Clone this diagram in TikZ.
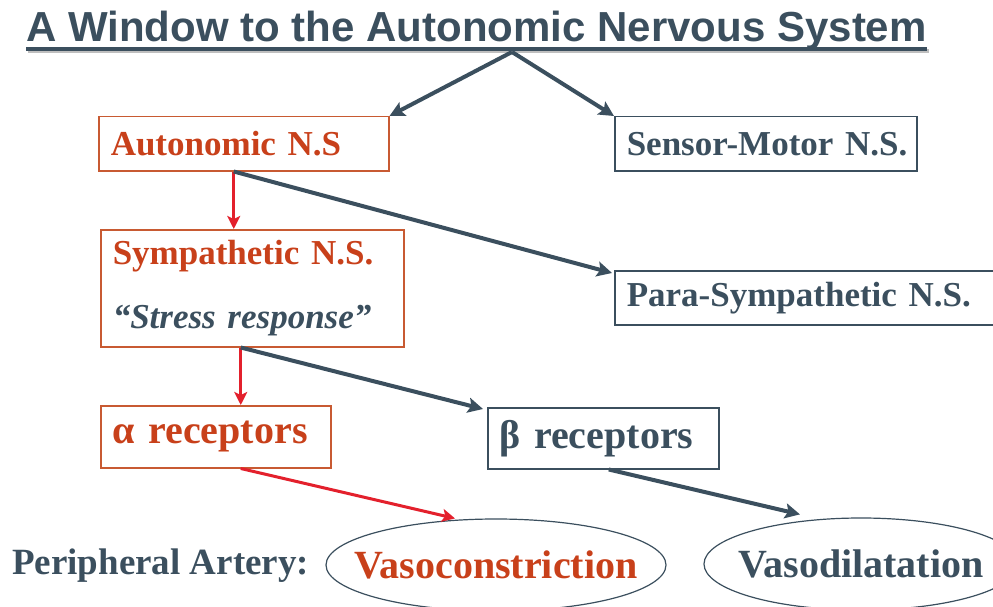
\documentclass[tikz,border=0pt]{standalone}
\usepackage{fontspec}
\setmainfont{Liberation Serif}
\newfontfamily\titlefont{Liberation Sans}
\usetikzlibrary{arrows.meta,shapes.geometric}
\definecolor{slate}{HTML}{3B4F5E}
\definecolor{rust}{HTML}{C8401A}
\definecolor{rustbox}{HTML}{C85A32}
\definecolor{arrowred}{HTML}{E3202C}
\tikzset{
  nsbox/.style={draw, line width=1.5pt, anchor=north west, align=left,
    inner xsep=12pt, inner ysep=0pt, font=\fontsize{35}{42}\selectfont\bfseries},
  redbox/.style={nsbox, draw=rustbox, text=rust},
  slatebox/.style={nsbox, draw=slate, text=slate},
  effect/.style={ellipse, draw=slate, line width=1.2pt, inner sep=0pt,
    font=\fontsize{40}{48}\selectfont\bfseries},
  link/.style={slate, line width=4pt, -{Stealth[length=15pt,width=15pt,inset=3pt]}},
  redlink/.style={arrowred, line width=3pt, -{Stealth[length=13pt,width=13pt,inset=3pt]}}
}
\begin{document}
\begin{tikzpicture}[x=1pt,y=-1pt]
	\useasboundingbox (0,0) rectangle (993,607);
	
	% title
	\node[anchor=base, inner sep=0pt, text=slate, font=\titlefont\fontsize{42}{50}\selectfont\bfseries]
		(title) at (476.5,42) {A Window to the Autonomic Nervous System};
	\draw[gray!50, line width=4pt] ([xshift=2pt,yshift=-9pt]title.base west) -- ([xshift=2pt,yshift=-9pt]title.base east);
	\draw[slate, line width=4pt] ([yshift=-7pt]title.base west) -- ([yshift=-7pt]title.base east);
	\coordinate (split) at (512,52);
	
	% boxes
	\node[redbox, text width=266pt, minimum height=54pt] (auto) at (98,116) {\mbox{Autonomic N.S}};
	\node[slatebox, text width=278pt, minimum height=54pt] (sensor) at (614,116) {\mbox{Sensor-Motor N.S.}};
	\node[redbox, text width=279pt, minimum height=117pt] (symp) at (100,229)
		{Sympathetic N.S.\\[22pt]{\color{slate}\itshape “Stress response”}};
	\node[slatebox, text width=366pt, minimum height=54pt] (para) at (614,270) {\mbox{Para-Sympathetic N.S.}};
	\node[redbox, text width=206pt, minimum height=62pt, font=\fontsize{40}{48}\selectfont\bfseries]
		(alpha) at (100,405) {α receptors};
	\node[slatebox, text width=207pt, minimum height=61pt, font=\fontsize{40}{48}\selectfont\bfseries]
		(beta) at (487,407) {β receptors};
	
	% artery
	\node[anchor=west, inner sep=0pt, text=slate, font=\fontsize{37}{44}\selectfont\bfseries]
		(artery) at (12,566) {Peripheral Artery:};
	\node[effect, minimum width=340pt, minimum height=92pt, text=rust] (vasoc) at (496,565) {\makebox[0pt]{Vasoconstriction}};
	\node[effect, minimum width=314pt, minimum height=92pt, text=slate] (vasod) at (861,564) {\makebox[0pt]{Vasodilatation}};
	
	% arrows
	\draw[link] (split) -- (auto.north east);
	\draw[link] (split) -- (sensor.north west);
	\draw[redlink] ([xshift=-10pt]auto.south) -- ([xshift=-18.5pt]symp.north);
	\draw[link] ([xshift=-10pt]auto.south) -- ([xshift=-2pt,yshift=-3pt]para.north west);
	\draw[redlink] ([xshift=-11.5pt]symp.south) -- ([xshift=25pt]alpha.north);
	\draw[link] ([xshift=-11.5pt]symp.south) -- ([xshift=-4pt,yshift=-2pt]beta.north west);
	\draw[redlink] ([xshift=25pt]alpha.south) -- ([xshift=-41pt]vasoc.north);
	\draw[link] ([xshift=5.5pt]beta.south) -- ([xshift=-61pt,yshift=3pt]vasod.north);
\end{tikzpicture}
\end{document}
